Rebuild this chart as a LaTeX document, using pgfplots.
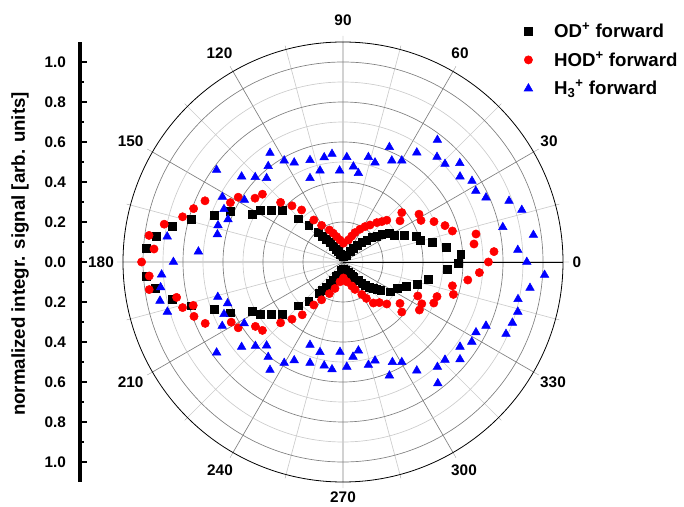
\documentclass[border=0pt]{standalone}
\usepackage{fontspec}
\setmainfont{Liberation Sans}
\usepackage{pgfplots}
\pgfplotsset{compat=1.18}
\usepgfplotslibrary{polar}
\begin{document}
\begin{tikzpicture}[font=\bfseries]
\useasboundingbox (0,0) rectangle (513pt,379.5pt);
% left scale
\begin{axis}[
  at={(60pt,18pt)}, anchor=south west,
  scale only axis, width=1pt, height=330pt,
  xmin=0, xmax=1, ymin=-1.1, ymax=1.1,
  hide x axis,
  axis y line*=left,
  y axis line style={line width=2.5pt},
  ytick={-1,-0.8,-0.6,-0.4,-0.2,0,0.2,0.4,0.6,0.8,1},
  yticklabels={1.0,0.8,0.6,0.4,0.2,0.0,0.2,0.4,0.6,0.8,1.0},
  minor ytick={-0.9,-0.7,-0.5,-0.3,-0.1,0.1,0.3,0.5,0.7,0.9},
  tick align=inside,
  major tick length=5.5pt, minor tick length=3pt,
  tick style={black, line width=1.5pt},
  yticklabel style={font=\bfseries\fontsize{11.5}{13}\selectfont, xshift=-7pt},
]
\addplot[draw=none] coordinates {(0,0)};
\end{axis}
\node[rotate=90, font=\bfseries\fontsize{14}{16}\selectfont] at (15pt,189pt) {normalized integr. signal [arb. units]};
% angle labels
\foreach \lab/\px/\py in {90/343/20, 120/219.5/53.3, 60/460/53.3, 150/130.7/141.5, 30/549/141, 180/101/262, 0/577/262, 210/130.7/382.5, 330/553/382, 240/220/470, 300/464/470, 270/343/497.5}{
  \node[font=\bfseries\fontsize{11.5}{13}\selectfont, inner sep=0pt] at ({\px*0.75pt},{(506-\py)*0.75pt}) {\lab};
}
\begin{polaraxis}[
  at={(257.25pt,183pt)}, anchor=center,
  scale only axis, width=330pt, height=330pt,
  ymin=0, ymax=1.1,
  xtick={0,30,...,330},
  xticklabels={},
  minor xtick={15,45,...,345},
  ytick={0.2,0.4,0.6,0.8,1.0},
  minor ytick={0.1,0.3,0.5,0.7,0.9},
  yticklabels={},
  ytick style={draw=none},
  grid=both,
  major grid style={draw=black!50, line width=0.5pt},
  minor grid style={draw=black!20, line width=0.5pt},
  axis line style={black, line width=0.6pt},
  xtick align=inside,
  major tick length=4.5pt, minor tick length=3pt,
  clip=false,
  legend style={at={(axis description cs:0.902,1.056)}, anchor=north west, draw=none, fill=none,
    font=\bfseries\fontsize{14}{16}\selectfont, row sep=5pt},
  legend cell align=left,
]
\addplot[data cs=cart, only marks, mark=square*, mark size=2.9pt, black] coordinates {
(-0.982,0.069) (-0.935,0.128) (-0.854,0.180) (-0.760,0.215) (-0.644,0.232) (-0.565,0.252) (-0.454,0.240) (-0.415,0.259) (-0.357,0.257) (-0.305,0.257) (-0.225,0.216) (-0.171,0.185) (-0.123,0.150) (-0.102,0.130) (-0.082,0.114) (-0.065,0.097) (-0.049,0.080) (-0.035,0.064) (-0.024,0.052) (-0.012,0.039) (0.000,0.030) (0.019,0.035) (0.035,0.052) (0.052,0.069) (0.072,0.085) (0.094,0.099) (0.119,0.110) (0.144,0.124) (0.169,0.130) (0.194,0.139) (0.230,0.145) (0.255,0.135) (0.307,0.135) (0.365,0.127) (0.385,0.110) (0.447,0.098) (0.515,0.073) (0.589,0.040) (0.578,-0.005) (0.520,-0.038) (0.427,-0.088) (0.373,-0.110) (0.315,-0.120) (0.272,-0.130) (0.235,-0.149) (0.189,-0.143) (0.169,-0.138) (0.150,-0.132) (0.130,-0.125) (0.110,-0.115) (0.094,-0.105) (0.077,-0.093) (0.052,-0.075) (0.048,-0.070) (0.035,-0.060) (0.028,-0.053) (0.010,-0.040) (0.000,-0.035) (-0.010,-0.040) (-0.024,-0.065) (-0.035,-0.072) (-0.049,-0.090) (-0.065,-0.105) (-0.082,-0.124) (-0.102,-0.140) (-0.120,-0.157) (-0.171,-0.195) (-0.225,-0.219) (-0.305,-0.260) (-0.357,-0.260) (-0.415,-0.260) (-0.454,-0.245) (-0.565,-0.254) (-0.644,-0.237) (-0.760,-0.219) (-0.855,-0.187) (-0.940,-0.130) (-0.982,-0.073)
};
\addlegendentry{\hspace{14pt}OD\textsuperscript{+} forward}
\addplot[data cs=cart, only marks, mark=*, mark size=3.1pt, red] coordinates {
(-1.007,0.000) (-0.945,0.065) (-0.970,0.133) (-0.894,0.189) (-0.802,0.226) (-0.747,0.267) (-0.690,0.306) (-0.563,0.297) (-0.524,0.324) (-0.440,0.319) (-0.403,0.339) (-0.312,0.298) (-0.255,0.281) (-0.207,0.260) (-0.146,0.210) (-0.107,0.183) (-0.068,0.160) (-0.049,0.144) (-0.032,0.127) (-0.015,0.110) (0.002,0.094) (0.027,0.110) (0.044,0.130) (0.060,0.147) (0.085,0.164) (0.110,0.177) (0.135,0.185) (0.169,0.197) (0.194,0.202) (0.219,0.209) (0.294,0.247) (0.285,0.206) (0.380,0.239) (0.390,0.208) (0.455,0.202) (0.510,0.182) (0.547,0.155) (0.665,0.140) (0.655,0.090) (0.755,0.052) (0.727,0.000) (0.682,-0.053) (0.624,-0.090) (0.547,-0.119) (0.552,-0.162) (0.470,-0.173) (0.454,-0.205) (0.394,-0.209) (0.382,-0.240) (0.374,-0.170) (0.294,-0.250) (0.285,-0.207) (0.219,-0.210) (0.182,-0.203) (0.152,-0.205) (0.117,-0.182) (0.094,-0.162) (0.060,-0.137) (0.044,-0.120) (0.019,-0.099) (0.002,-0.080) (-0.015,-0.099) (-0.040,-0.132) (-0.068,-0.158) (-0.107,-0.189) (-0.146,-0.215) (-0.204,-0.264) (-0.255,-0.286) (-0.312,-0.304) (-0.403,-0.342) (-0.438,-0.322) (-0.524,-0.329) (-0.559,-0.301) (-0.689,-0.307) (-0.745,-0.272) (-0.749,-0.217) (-0.802,-0.228) (-0.832,-0.177) (-0.969,-0.138) (-0.969,-0.070)
};
\addlegendentry{\hspace{14pt}HOD\textsuperscript{+} forward}
\addplot[data cs=cart, only marks, mark=triangle*, mark size=3.7pt, blue] coordinates {
(-0.848,0.000) (-0.723,0.052) (-0.879,0.127) (-0.628,0.138) (-0.625,0.183) (-0.575,0.213) (-0.595,0.264) (-0.603,0.325) (-0.493,0.310) (-0.632,0.460) (-0.507,0.427) (-0.439,0.424) (-0.382,0.419) (-0.374,0.479) (-0.365,0.545) (-0.294,0.507) (-0.244,0.497) (-0.165,0.509) (-0.165,0.419) (-0.115,0.457) (-0.094,0.523) (-0.055,0.540) (-0.017,0.457) (0.019,0.524) (0.052,0.477) (0.077,0.444) (0.127,0.524) (0.160,0.497) (0.232,0.574) (0.244,0.507) (0.294,0.507) (0.369,0.547) (0.472,0.610) (0.470,0.525) (0.510,0.490) (0.584,0.494) (0.585,0.427) (0.645,0.405) (0.664,0.355) (0.715,0.322) (0.830,0.305) (0.894,0.260) (0.799,0.174) (0.952,0.135) (0.874,0.060) (0.919,0.000) (1.008,-0.065) (0.935,-0.130) (0.875,-0.186) (0.874,-0.249) (0.847,-0.304) (0.815,-0.360) (0.715,-0.319) (0.665,-0.352) (0.644,-0.399) (0.585,-0.424) (0.585,-0.487) (0.510,-0.489) (0.472,-0.525) (0.474,-0.607) (0.369,-0.543) (0.294,-0.501) (0.247,-0.501) (0.232,-0.568) (0.160,-0.493) (0.127,-0.515) (0.077,-0.443) (0.050,-0.474) (0.019,-0.524) (-0.015,-0.450) (-0.055,-0.537) (-0.094,-0.518) (-0.115,-0.451) (-0.165,-0.505) (-0.165,-0.415) (-0.244,-0.492) (-0.294,-0.505) (-0.365,-0.540) (-0.374,-0.475) (-0.382,-0.418) (-0.438,-0.420) (-0.507,-0.425) (-0.632,-0.453) (-0.494,-0.307) (-0.604,-0.320) (-0.595,-0.261) (-0.577,-0.207) (-0.626,-0.175) (-0.878,-0.249) (-0.915,-0.194) (-0.912,-0.127) (-0.907,-0.063)
};
\addlegendentry{\hspace{14pt}H\textsubscript{3}\textsuperscript{+} forward}
\end{polaraxis}
\end{tikzpicture}
\end{document}
